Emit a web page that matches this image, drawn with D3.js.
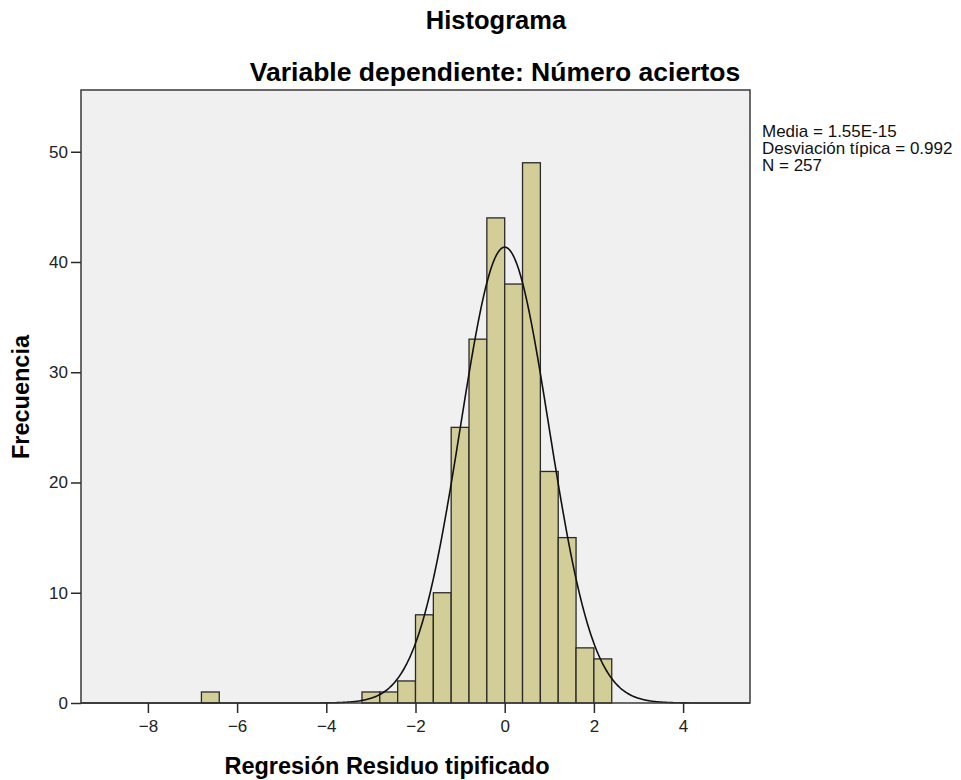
<!DOCTYPE html>
<html>
<head>
<meta charset="utf-8">
<script src="https://cdn.jsdelivr.net/npm/d3@7"></script>
<style>
  html, body { margin: 0; padding: 0; background: #ffffff; }
  svg { display: block; font-family: "Liberation Sans", Arial, sans-serif; }
</style>
</head>
<body>
<svg id="chart" width="961" height="780"></svg>
<script>
// Histogram bins of the standardized residuals (lower edge, count)
const binStarts = [-6.8, -3.2, -2.8, -2.4, -2.0, -1.6, -1.2, -0.8, -0.4, 0.0, 0.4, 0.8, 1.2, 1.6, 2.0];
const binWidth = 0.4;
const counts = [1, 1, 1, 2, 8, 10, 25, 33, 44, 38, 49, 21, 15, 5, 4];

// Summary statistics shown beside the plot
const mean = 1.55e-15;
const stdDev = 0.992;
const nObs = 257;
const statLines = ["Media = 1.55E-15", "Desviación típica = 0.992", "N = 257"];

const xTicks = [-8, -6, -4, -2, 0, 2, 4];
const yTicks = [0, 10, 20, 30, 40, 50];

const svg = d3.select("#chart");
const plot = { left: 81, top: 90, right: 750, bottom: 703 };

const x = d3.scaleLinear().domain([-9.5, 5.5]).range([plot.left, plot.right]);
const y = d3.scaleLinear().domain([0, 55.6]).range([plot.bottom, plot.top]);

// Plot background
svg.append("rect")
  .attr("x", plot.left).attr("y", plot.top)
  .attr("width", plot.right - plot.left).attr("height", plot.bottom - plot.top)
  .attr("fill", "#f0f0f0");

// Bars
svg.append("g").selectAll("rect")
  .data(binStarts.map((s, i) => ({ x0: s, x1: s + binWidth, n: counts[i] })))
  .join("rect")
  .attr("x", d => x(d.x0))
  .attr("y", d => y(d.n))
  .attr("width", d => x(d.x1) - x(d.x0))
  .attr("height", d => y(0) - y(d.n))
  .attr("fill", "#d3ce97")
  .attr("stroke", "#2a2a2a")
  .attr("stroke-width", 1.3);

// Normal density curve scaled to counts per bin
const normal = v => nObs * binWidth / (stdDev * Math.sqrt(2 * Math.PI)) *
  Math.exp(-0.5 * Math.pow((v - mean) / stdDev, 2));
const curveXs = d3.range(-9.5, 5.5001, 0.02);
svg.append("path")
  .datum(curveXs)
  .attr("d", d3.line().x(v => x(v)).y(v => y(normal(v))))
  .attr("fill", "none")
  .attr("stroke", "#111")
  .attr("stroke-width", 1.6);

// Plot frame
svg.append("rect")
  .attr("x", plot.left).attr("y", plot.top)
  .attr("width", plot.right - plot.left).attr("height", plot.bottom - plot.top)
  .attr("fill", "none")
  .attr("stroke", "#3a3a3a")
  .attr("stroke-width", 1.5);

// Axes
const xAxis = svg.append("g")
  .attr("transform", `translate(0,${plot.bottom})`)
  .call(d3.axisBottom(x).tickValues(xTicks).tickSize(10).tickPadding(4).tickFormat(d3.format("d")));
const yAxis = svg.append("g")
  .attr("transform", `translate(${plot.left},0)`)
  .call(d3.axisLeft(y).tickValues(yTicks).tickSize(10).tickPadding(3).tickFormat(d3.format("d")));

[xAxis, yAxis].forEach(g => {
  g.select(".domain").remove();
  g.selectAll(".tick line").attr("stroke", "#2a2a2a").attr("stroke-width", 1.5);
  g.selectAll(".tick text")
    .attr("fill", "#222")
    .style("font-family", "'Liberation Sans', Arial, sans-serif")
    .style("font-size", "17px");
});
xAxis.selectAll(".tick text").attr("dy", "0.9em");

// Titles
svg.append("text")
  .attr("x", 496).attr("y", 29)
  .attr("text-anchor", "middle")
  .style("font-size", "25.5px").style("font-weight", "bold")
  .text("Histograma");
svg.append("text")
  .attr("x", 495).attr("y", 81)
  .attr("text-anchor", "middle")
  .style("font-size", "26.5px").style("font-weight", "bold")
  .text("Variable dependiente: Número aciertos");

// Axis titles
svg.append("text")
  .attr("x", 387).attr("y", 774)
  .attr("text-anchor", "middle")
  .style("font-size", "23.5px").style("font-weight", "bold")
  .text("Regresión Residuo tipificado");
svg.append("text")
  .attr("transform", "translate(29,397) rotate(-90)")
  .attr("text-anchor", "middle")
  .style("font-size", "23.5px").style("font-weight", "bold")
  .text("Frecuencia");

// Summary statistics
svg.append("g").selectAll("text")
  .data(statLines)
  .join("text")
  .attr("x", 762)
  .attr("y", (d, i) => 137 + i * 17)
  .style("font-size", "17px")
  .attr("fill", "#111")
  .text(d => d);
</script>
</body>
</html>
